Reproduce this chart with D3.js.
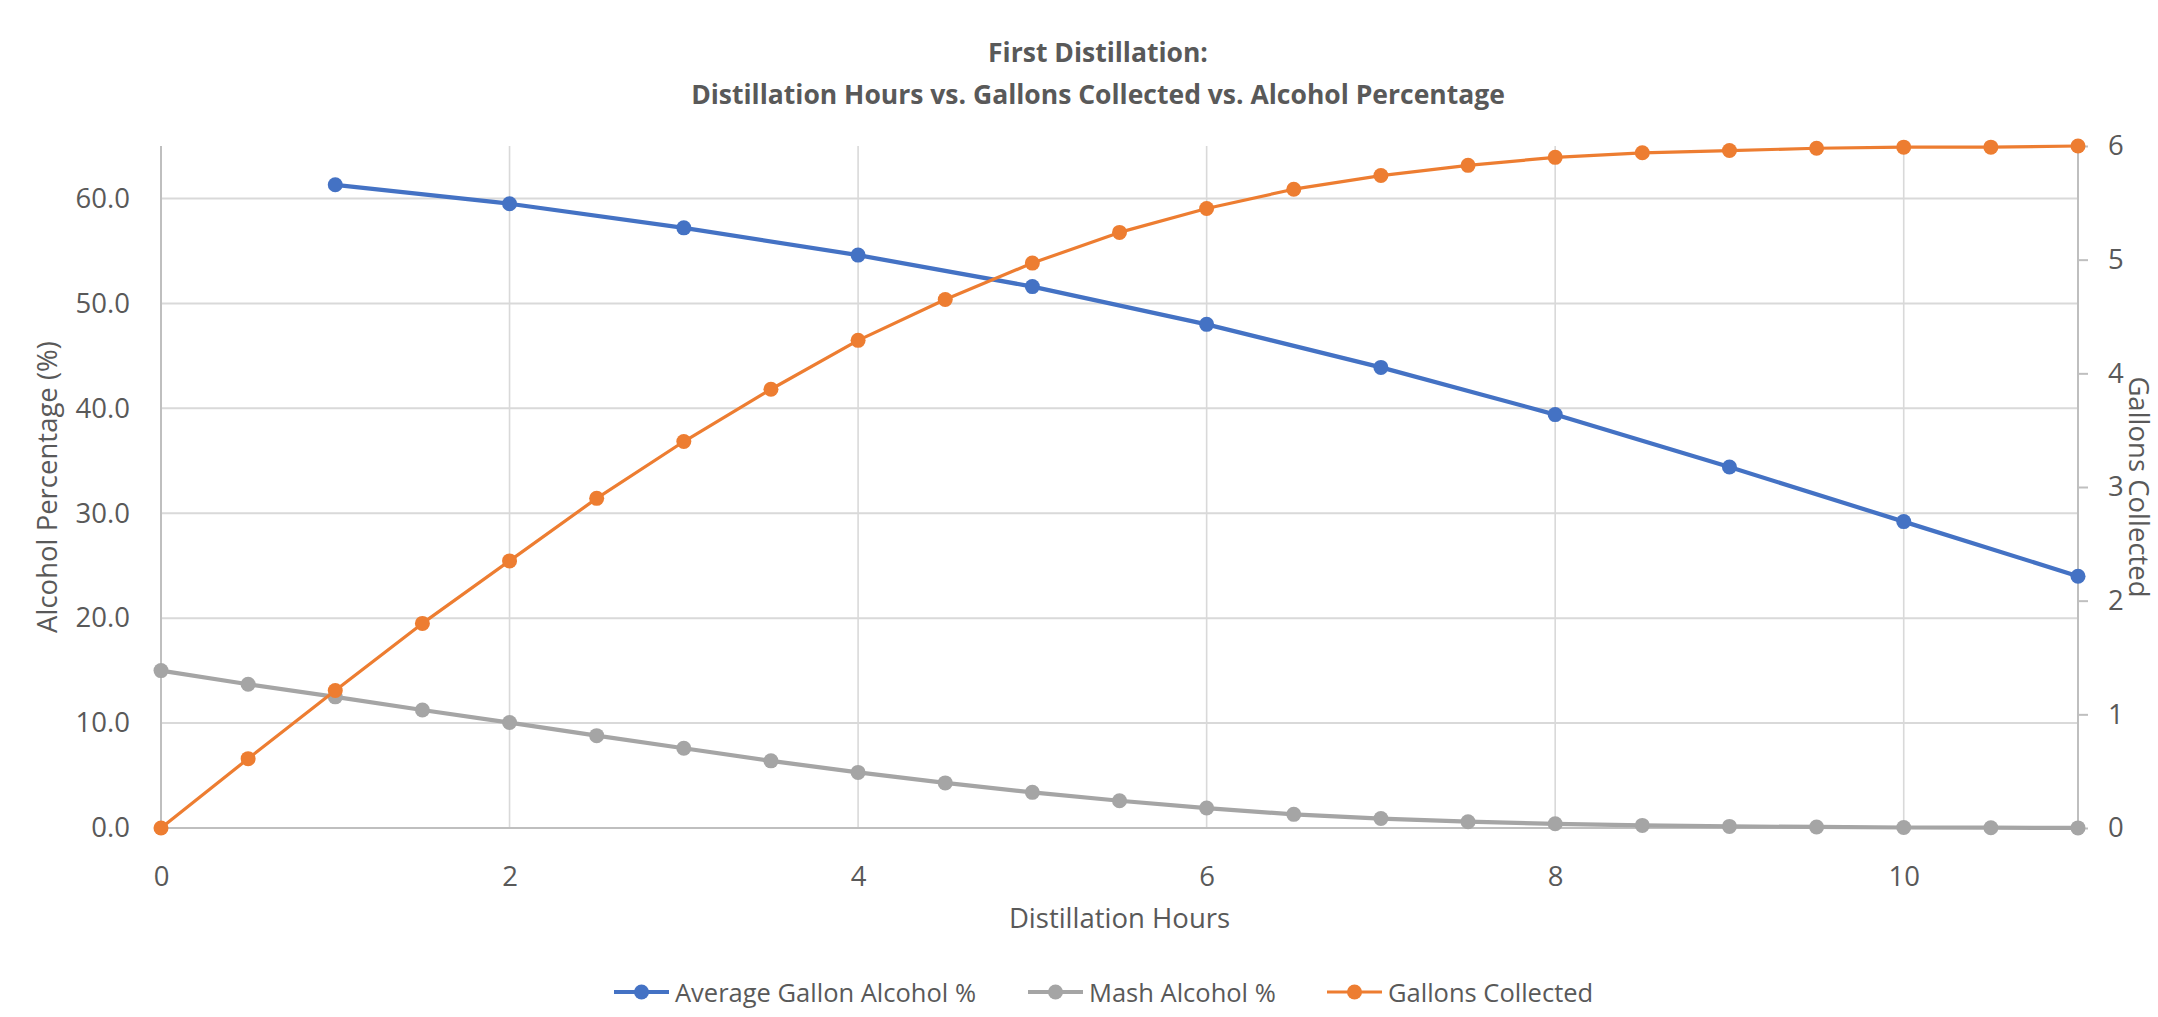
<!DOCTYPE html>
<html>
<head>
<meta charset="utf-8">
<script src="https://cdn.jsdelivr.net/npm/d3@7"></script>
<style>
  html, body { margin: 0; padding: 0; background: #ffffff; }
  svg { display: block; font-family: "Open Sans", "Noto Sans", sans-serif; }
</style>
</head>
<body>
<svg id="chart" width="2158" height="1017"></svg>
<script>
// ---- Data ----
const titleLines = ["First Distillation:", "Distillation Hours vs. Gallons Collected vs. Alcohol Percentage"];
const xAxisTitle = "Distillation Hours";
const yLeftTitle = "Alcohol Percentage (%)";
const yRightTitle = "Gallons Collected";

const avgHours = [1, 2, 3, 4, 5, 6, 7, 8, 9, 10, 11];
const avgGallonAlcohol = [61.3, 59.5, 57.2, 54.6, 51.6, 48.0, 43.9, 39.4, 34.4, 29.2, 24.0];

const halfHours = [0, 0.5, 1, 1.5, 2, 2.5, 3, 3.5, 4, 4.5, 5, 5.5, 6, 6.5, 7, 7.5, 8, 8.5, 9, 9.5, 10, 10.5, 11];
const mashAlcohol = [15.0, 13.7, 12.5, 11.25, 10.05, 8.8, 7.6, 6.4, 5.3, 4.3, 3.4, 2.6, 1.9, 1.3, 0.9, 0.6, 0.4, 0.25, 0.15, 0.1, 0.05, 0.03, 0.01];
const gallonsCollected = [0, 0.61, 1.21, 1.80, 2.35, 2.90, 3.40, 3.86, 4.29, 4.65, 4.97, 5.24, 5.45, 5.62, 5.74, 5.83, 5.90, 5.94, 5.96, 5.98, 5.99, 5.99, 6.0];

const xTicks = [0, 2, 4, 6, 8, 10];
const yLeftTicks = [0, 10, 20, 30, 40, 50, 60];
const yRightTicks = [0, 1, 2, 3, 4, 5, 6];

const seriesNames = ["Average Gallon Alcohol %", "Mash Alcohol %", "Gallons Collected"];
const seriesColors = ["#4472C4", "#A5A5A5", "#ED7D31"];

// ---- Layout ----
const W = 2158, H = 1017;
const margin = { left: 161, right: 80, top: 146, bottom: 189 };
const plotW = W - margin.left - margin.right;
const plotH = H - margin.top - margin.bottom;
const textColor = "#595959";

const svg = d3.select("#chart");
const g = svg.append("g").attr("transform", `translate(${margin.left},${margin.top})`);

const x = d3.scaleLinear().domain([0, 11]).range([0, plotW]);
const yL = d3.scaleLinear().domain([0, 65]).range([plotH, 0]);
const yR = d3.scaleLinear().domain([0, 6]).range([plotH, 0]);

// Gridlines
g.append("g").selectAll("line").data(yLeftTicks.filter(d => d > 0)).join("line")
  .attr("x1", 0).attr("x2", plotW)
  .attr("y1", d => yL(d)).attr("y2", d => yL(d))
  .attr("stroke", "#d9d9d9").attr("stroke-width", 2);
g.append("g").selectAll("line").data(xTicks.filter(d => d > 0)).join("line")
  .attr("x1", d => x(d)).attr("x2", d => x(d))
  .attr("y1", 0).attr("y2", plotH)
  .attr("stroke", "#d9d9d9").attr("stroke-width", 1.6);

// Axes
const axisColor = "#bfbfbf";
const xAxis = g.append("g").attr("transform", `translate(0,${plotH})`)
  .call(d3.axisBottom(x).tickValues(xTicks).tickFormat(d3.format("d")).tickSize(0).tickPadding(38));
const yAxisL = g.append("g")
  .call(d3.axisLeft(yL).tickValues(yLeftTicks).tickFormat(d3.format(".1f")).tickSize(0).tickPadding(31));
const yAxisR = g.append("g").attr("transform", `translate(${plotW},0)`)
  .call(d3.axisRight(yR).tickValues(yRightTicks).tickFormat(d3.format("d")).tickSize(10).tickPadding(20));

[xAxis, yAxisL, yAxisR].forEach(a => {
  a.select(".domain").attr("stroke", axisColor).attr("stroke-width", 2);
  a.selectAll(".tick line").attr("stroke", axisColor).attr("stroke-width", 2);
  a.selectAll(".tick text").attr("fill", textColor).attr("font-size", 27.5)
    .attr("font-family", "'Open Sans', 'Noto Sans', sans-serif");
});
xAxis.select(".domain").attr("d", `M0,0H${plotW}`);
yAxisL.select(".domain").attr("d", `M0,${plotH}V0`);
yAxisR.select(".domain").attr("d", `M0,${plotH}V0`);

// Lines & markers
const lineL = d3.line().x(d => x(d[0])).y(d => yL(d[1]));
const lineR = d3.line().x(d => x(d[0])).y(d => yR(d[1]));

const avgData = avgHours.map((h, i) => [h, avgGallonAlcohol[i]]);
const mashData = halfHours.map((h, i) => [h, mashAlcohol[i]]);
const galData = halfHours.map((h, i) => [h, gallonsCollected[i]]);

function drawSeries(data, lineGen, yScale, color, width) {
  const s = g.append("g");
  s.append("path").datum(data).attr("d", lineGen)
    .attr("fill", "none").attr("stroke", color).attr("stroke-width", width)
    .attr("stroke-linejoin", "round").attr("stroke-linecap", "round");
  s.selectAll("circle").data(data).join("circle")
    .attr("cx", d => x(d[0])).attr("cy", d => yScale(d[1])).attr("r", 7.5)
    .attr("fill", color);
}
drawSeries(avgData, lineL, yL, seriesColors[0], 4.2);
drawSeries(mashData, lineL, yL, seriesColors[1], 4.2);
drawSeries(galData, lineR, yR, seriesColors[2], 3.2);

// Titles
const title = svg.append("text").attr("text-anchor", "middle").attr("fill", textColor)
  .attr("font-weight", "bold").attr("font-size", 26.5);
title.selectAll("tspan").data(titleLines).join("tspan")
  .attr("x", 1098).attr("y", (d, i) => 62 + i * 42).text(d => d);

svg.append("text").attr("x", margin.left + plotW / 2).attr("y", 928)
  .attr("text-anchor", "middle").attr("fill", textColor).attr("font-size", 27.5)
  .text(xAxisTitle);

svg.append("text").attr("transform", `translate(57,${margin.top + plotH / 2}) rotate(-90)`)
  .attr("text-anchor", "middle").attr("fill", textColor).attr("font-size", 27.5)
  .text(yLeftTitle);

svg.append("text").attr("transform", `translate(2129,${margin.top + plotH / 2}) rotate(90)`)
  .attr("text-anchor", "middle").attr("fill", textColor).attr("font-size", 27.5)
  .text(yRightTitle);

// Legend
const legendX = [614, 1028, 1327];
const legendY = 992;
const leg = svg.append("g");
seriesNames.forEach((name, i) => {
  const lg = leg.append("g").attr("transform", `translate(${legendX[i]},${legendY})`);
  lg.append("line").attr("x1", 0).attr("x2", 55).attr("y1", 0).attr("y2", 0)
    .attr("stroke", seriesColors[i]).attr("stroke-width", i === 2 ? 3.2 : 4.2);
  lg.append("circle").attr("cx", 27.5).attr("cy", 0).attr("r", 7.5).attr("fill", seriesColors[i]);
  lg.append("text").attr("x", 61).attr("y", 10).attr("fill", textColor).attr("font-size", 25.5)
    .text(name);
});
</script>
</body>
</html>
